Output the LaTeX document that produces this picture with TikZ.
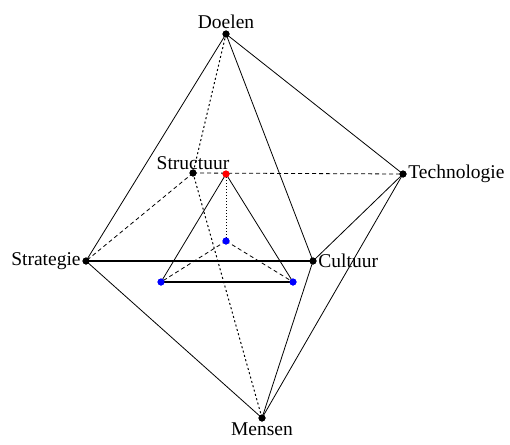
\documentclass[tikz,border=0pt]{standalone}
\usepackage{fontspec}
\setmainfont{Liberation Serif}
\begin{document}
\begin{tikzpicture}[x=1pt,y=-1pt,
  dot/.style={circle,fill=black,inner sep=0pt,minimum size=7pt},
  rdot/.style={circle,fill=red,inner sep=0pt,minimum size=7pt},
  bdot/.style={circle,fill=blue,inner sep=0pt,minimum size=7pt},
  lbl/.style={font=\fontsize{19.5}{19.5}\selectfont,inner sep=1.5pt},
  edge/.style={draw,line width=0.8pt},
  dedge/.style={draw,line width=0.8pt,dash pattern=on 4pt off 3pt},
  dotedge/.style={draw,line width=1pt,dash pattern=on 2pt off 2.5pt}]
\useasboundingbox (0,0) rectangle (510,444);
\node[dot] (D) at (226,34) {};
\node[dot] (T) at (403,174) {};
\node[dot] (S) at (193,173) {};
\node[rdot] (R) at (226,174) {};
\node[dot] (St) at (86,261) {};
\node[dot] (C) at (313,261) {};
\node[dot] (M) at (262,418) {};
\node[bdot] (B1) at (226,241) {};
\node[bdot] (B2) at (161,282) {};
\node[bdot] (B3) at (293,282) {};
\node[lbl,anchor=south] (lD) at (D.north) {Doelen};
\node[lbl,anchor=west] (lT) at (T.east) {Technologie};
\node[lbl,anchor=south] (lS) at ([yshift=-2pt]S.north) {Structuur};
\node[lbl,anchor=east] (lSt) at (St.west) {Strategie};
\node[lbl,anchor=west] (lC) at (C.east) {Cultuur};
\node[lbl,anchor=north] (lM) at ([yshift=1pt]M.south) {Mensen};
% solid
\path[edge] (D.center) -- (St.center);
\path[edge] (D.center) -- (C.center);
\path[edge] (D.center) -- (T.center);
\path[edge] (T.center) -- (C.center);
\path[edge] (T.center) -- (M.center);
\path[edge] (St.center) -- (M.center);
\path[edge] (C.center) -- (M.center);
\path[draw,line width=1.2pt] (St.center) -- (C.center);
% dashed
\path[dotedge] (D.center) -- (S.center);
\path[dedge] (S.center) -- (T.center);
\path[dedge] (S.center) -- (St.center);
\path[dotedge] (S.center) -- (M.center);
% inner
\path[edge] (R.center) -- (B2.center);
\path[edge] (R.center) -- (B3.center);
\path[draw,line width=1.1pt] (B2.center) -- (B3.center);
\path[draw,line width=0.7pt,dash pattern=on 1pt off 2pt] (R.center) -- (B1.center);
\path[dedge] (B1.center) -- (B2.center);
\path[dedge] (B1.center) -- (B3.center);
% redraw dots on top
\foreach \n/\s in {D/dot,T/dot,S/dot,St/dot,C/dot,M/dot,R/rdot,B1/bdot,B2/bdot,B3/bdot}
  \node[\s] at (\n) {};
\end{tikzpicture}
\end{document}
